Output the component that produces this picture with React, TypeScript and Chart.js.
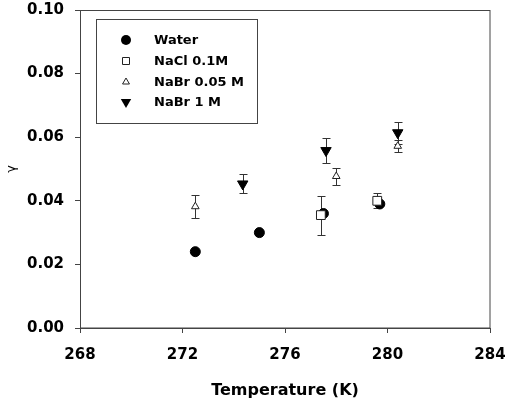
import React, { useEffect, useRef } from "react";
import { Chart, registerables } from "chart.js";

Chart.register(...registerables);

const FONT = "'DejaVu Sans', 'Liberation Sans', Arial, sans-serif";

// Data
const waterT = [272.5, 275.0, 277.5, 279.7];
const waterG = [0.024, 0.030, 0.036, 0.039];

const naclT = [277.4, 279.6];
const naclG = [0.0355, 0.0400];
const naclErr = [0.0061, 0.0024];

const nabr005T = [272.5, 278.0, 280.4];
const nabr005G = [0.0382, 0.0477, 0.0572];
const nabr005Err = [0.0035, 0.0027, 0.0020];

const nabr1T = [274.35, 277.6, 280.4];
const nabr1G = [0.0453, 0.0558, 0.0614];
const nabr1Err = [0.0030, 0.0038, 0.0035];

const xTicks = [268, 272, 276, 280, 284];
const yTicks = [0, 0.02, 0.04, 0.06, 0.08, 0.1];

const seriesNames = ["Water", "NaCl 0.1M", "NaBr 0.05 M", "NaBr 1 M"];

const pts = (xs: number[], ys: number[]) => xs.map((x, i) => ({ x, y: ys[i] }));

const AXIS_COLOR = "#444";

const styles = [
  { pointStyle: "circle", radius: 5, bg: "#000", border: "#000", rotation: 0 },
  { pointStyle: "rect", radius: 6.2, bg: "#fff", border: "#222", rotation: 0 },
  { pointStyle: "triangle", radius: 4.4, bg: "#fff", border: "#222", rotation: 0 },
  { pointStyle: "triangle", radius: 6, bg: "#000", border: "#000", rotation: 180 },
];

const errorBars = [
  { xs: naclT, ys: naclG, errs: naclErr },
  { xs: nabr005T, ys: nabr005G, errs: nabr005Err },
  { xs: nabr1T, ys: nabr1G, errs: nabr1Err },
];

function drawSymbol(ctx: CanvasRenderingContext2D, kind: number, x: number, y: number) {
  ctx.beginPath();
  if (kind === 0) {
    ctx.arc(x, y, 5, 0, Math.PI * 2);
    ctx.fillStyle = "#000";
    ctx.fill();
    return;
  }
  if (kind === 1) {
    ctx.rect(x - 3.5, y - 3.5, 7, 7);
    ctx.fillStyle = "#fff";
    ctx.fill();
    ctx.strokeStyle = "#222";
    ctx.lineWidth = 1;
    ctx.stroke();
    return;
  }
  if (kind === 2) {
    const r = 4;
    ctx.moveTo(x, y - r);
    ctx.lineTo(x + 0.866 * r, y + 0.5 * r);
    ctx.lineTo(x - 0.866 * r, y + 0.5 * r);
    ctx.closePath();
    ctx.fillStyle = "#fff";
    ctx.fill();
    ctx.strokeStyle = "#222";
    ctx.lineWidth = 1;
    ctx.stroke();
    return;
  }
  const r = 6;
  ctx.moveTo(x, y + r);
  ctx.lineTo(x + 0.866 * r, y - 0.5 * r);
  ctx.lineTo(x - 0.866 * r, y - 0.5 * r);
  ctx.closePath();
  ctx.fillStyle = "#000";
  ctx.fill();
}

const framePlugin = {
  id: "frameAndErrors",
  beforeDatasetsDraw(chart: any) {
    const { ctx, chartArea, scales } = chart;
    ctx.save();
    ctx.strokeStyle = AXIS_COLOR;
    ctx.lineWidth = 1;
    ctx.strokeRect(chartArea.left + 0.5, chartArea.top + 0.5, chartArea.right - chartArea.left - 0.5, chartArea.bottom - chartArea.top - 0.5);
    ctx.strokeStyle = "#333";
    ctx.lineWidth = 1;
    errorBars.forEach((eb) => {
      eb.xs.forEach((xv, i) => {
        const x = Math.round(scales.x.getPixelForValue(xv)) + 0.5;
        const yTop = Math.round(scales.y.getPixelForValue(eb.ys[i] + eb.errs[i])) + 0.5;
        const yBot = Math.round(scales.y.getPixelForValue(eb.ys[i] - eb.errs[i])) + 0.5;
        ctx.beginPath();
        ctx.moveTo(x, yTop);
        ctx.lineTo(x, yBot);
        ctx.moveTo(x - 4, yTop);
        ctx.lineTo(x + 4, yTop);
        ctx.moveTo(x - 4, yBot);
        ctx.lineTo(x + 4, yBot);
        ctx.stroke();
      });
    });
    ctx.restore();
  },
  afterDraw(chart: any) {
    const { ctx } = chart;
    ctx.save();
    const lx = 96, ly = 19, lw = 161, lh = 104;
    ctx.strokeStyle = AXIS_COLOR;
    ctx.lineWidth = 1;
    ctx.strokeRect(lx + 0.5, ly + 0.5, lw, lh);
    const rows = [40, 61, 82, 102];
    seriesNames.forEach((name, i) => {
      drawSymbol(ctx, i, 126, rows[i]);
      ctx.fillStyle = "#000";
      ctx.font = `bold 13px ${FONT}`;
      ctx.textAlign = "left";
      ctx.textBaseline = "middle";
      ctx.fillText(name, 154, rows[i] + 1);
    });
    ctx.restore();
  },
};

export default function App() {
  const ref = useRef<HTMLCanvasElement>(null);
  useEffect(() => {
    if (!ref.current) return;
    const allT = [waterT, naclT, nabr005T, nabr1T];
    const allG = [waterG, naclG, nabr005G, nabr1G];
    const chart = new Chart(ref.current, {
      type: "scatter",
      data: {
        datasets: seriesNames.map((name, i) => ({
          label: name,
          data: pts(allT[i], allG[i]),
          pointStyle: styles[i].pointStyle as any,
          pointRadius: styles[i].radius,
          pointRotation: styles[i].rotation,
          pointBackgroundColor: styles[i].bg,
          pointBorderColor: styles[i].border,
          pointBorderWidth: 1,
          showLine: false,
          order: 4 - i,
        })),
      },
      options: {
        animation: false,
        responsive: false,
        devicePixelRatio: 1,
        layout: { padding: { left: 0, top: 10, right: 19, bottom: 0 } },
        plugins: { legend: { display: false }, tooltip: { enabled: false } },
        scales: {
          x: {
            type: "linear",
            min: 268,
            max: 284,
            afterBuildTicks: (s: any) => {
              s.ticks = xTicks.map((v) => ({ value: v }));
            },
            afterFit: (s: any) => {
              s.height = 83;
              s.paddingLeft = 0;
              s.paddingRight = 0;
            },
            ticks: {
              color: "#000",
              font: { family: FONT, size: 15, weight: "bold" },
              padding: 13,
              maxRotation: 0,
              callback: (v: any) => String(v),
            },
            grid: { drawOnChartArea: false, tickLength: 5, color: AXIS_COLOR, tickColor: AXIS_COLOR },
            border: { display: true, color: AXIS_COLOR },
            title: {
              display: true,
              text: "Temperature (K)",
              color: "#000",
              font: { family: FONT, size: 16, weight: "bold" },
              padding: { top: 0, bottom: 11 },
            },
          },
          y: {
            type: "linear",
            min: 0,
            max: 0.1,
            afterBuildTicks: (s: any) => {
              s.ticks = yTicks.map((v) => ({ value: v }));
            },
            afterFit: (s: any) => {
              s.width = 80;
              s.paddingTop = 0;
              s.paddingBottom = 0;
            },
            ticks: {
              color: "#000",
              font: { family: FONT, size: 15, weight: "bold" },
              padding: 11,
              callback: (v: any) => Number(v).toFixed(2),
            },
            grid: { drawOnChartArea: false, tickLength: 5, color: AXIS_COLOR, tickColor: AXIS_COLOR },
            border: { display: true, color: AXIS_COLOR },
            title: {
              display: true,
              text: "γ",
              color: "#000",
              font: { family: FONT, size: 13, weight: "normal" },
              padding: { top: 4, bottom: 0 },
            },
          },
        },
      },
      plugins: [framePlugin],
    });
    return () => chart.destroy();
  }, []);
  return (
    <div style={{ position: "absolute", left: 0, top: 0, width: 509, height: 411, background: "#fff" }}>
      <canvas ref={ref} width={509} height={411} style={{ display: "block" }} />
    </div>
  );
}
